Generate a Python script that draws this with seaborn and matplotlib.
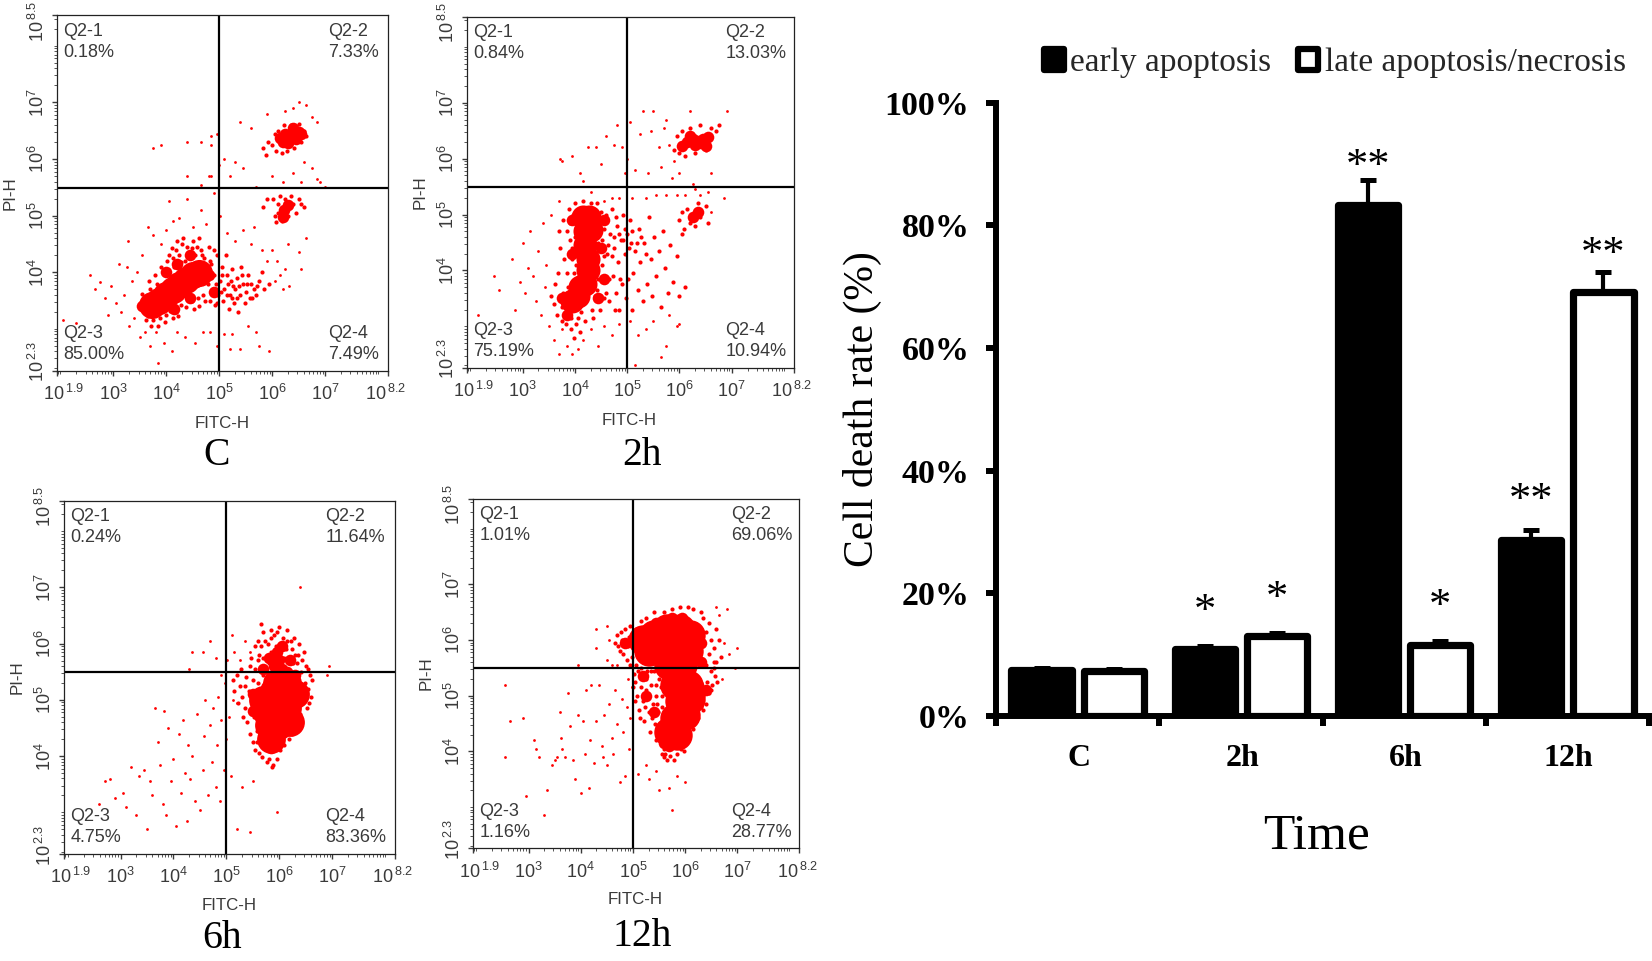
import pandas as pd
import numpy as np
import matplotlib
matplotlib.use("Agg")
import matplotlib.pyplot as plt
from matplotlib.ticker import LogLocator, NullFormatter
from matplotlib.transforms import ScaledTranslation
import seaborn as sns

# bar chart values (same numbers as the gates in the flow plots)
times = ["C", "2h", "6h", "12h"]
early = [7.49, 10.94, 83.36, 28.77]
late = [7.33, 13.03, 11.64, 69.06]
early_err = [0.3, 0.55, 4.1, 1.5]
late_err = [0.3, 0.55, 0.55, 3.4]
early_stars = ["", "*", "**", "**"]
late_stars = ["", "*", "*", "**"]
early_star_y = [0, 18.6, 91.1, 36.6]
late_star_y = [0, 20.7, 19.4, 76.8]
pct_ticks = [0, 20, 40, 60, 80, 100]

# gate percentages, panel order C, 2h, 6h, 12h
q1 = ["0.18%", "0.84%", "0.24%", "1.01%"]
q2 = ["7.33%", "13.03%", "11.64%", "69.06%"]
q3 = ["85.00%", "75.19%", "4.75%", "1.16%"]
q4 = ["7.49%", "10.94%", "83.36%", "28.77%"]

# flow cytometry dots as (log10 FITC-H, log10 PI-H)
c_blob = [(3.74, 3.42), (3.87, 3.50), (3.99, 3.60), (4.12, 3.68), (4.25, 3.78), (4.38, 3.87), (4.50, 3.95), (4.62, 3.98)]
c_knot = [(6.2, 6.30), (6.3, 6.38), (6.4, 6.42), (6.5, 6.48), (6.3, 6.28), (6.45, 6.36), (6.15, 6.38), (6.55, 6.44), (6.25, 6.45), (6.4, 6.55),
          (6.22, 5.10), (6.3, 5.18), (6.2, 4.98),
          (3.55, 3.4), (4.0, 4.0), (4.2, 4.15), (4.45, 4.3), (4.8, 3.95), (4.9, 3.65), (4.15, 3.35), (4.45, 3.55)]
c_dense = [(3.52, 3.45), (3.58, 3.3), (3.6, 3.55), (3.65, 3.22), (3.7, 3.7), (3.75, 3.15), (3.82, 3.8), (3.88, 3.2), (3.95, 3.98),
           (4.0, 3.25), (4.02, 4.2), (4.08, 3.32), (4.1, 4.42), (4.15, 4.1), (4.18, 3.3), (4.2, 4.55), (4.25, 4.3), (4.28, 3.42),
           (4.3, 4.5), (4.35, 4.2), (4.38, 3.38), (4.4, 4.45), (4.45, 4.25), (4.48, 3.5), (4.5, 4.55), (4.55, 4.3), (4.6, 3.55),
           (4.62, 4.6), (4.66, 4.4), (4.7, 3.6), (4.72, 4.25), (4.78, 3.8), (4.8, 4.45), (4.82, 3.5), (4.85, 4.15), (4.88, 3.7),
           (4.9, 3.95), (4.92, 3.42), (4.95, 4.3), (4.98, 3.6), (5.02, 3.85), (5.05, 4.1), (5.08, 3.5), (5.1, 3.7), (5.12, 4.3),
           (5.15, 3.95), (5.18, 3.35), (5.2, 3.6), (5.22, 3.85), (5.25, 4.05), (5.28, 3.45), (5.3, 3.7), (5.33, 3.9), (5.36, 3.3),
           (5.4, 3.6), (5.42, 4.1), (5.45, 3.8), (5.48, 3.45), (5.5, 3.65), (5.55, 3.95), (5.58, 3.55), (5.6, 3.8), (5.65, 3.7),
           (5.7, 3.6), (5.75, 3.85), (5.8, 4.0), (5.85, 3.7), (5.95, 3.8),
           (6.0, 6.25), (6.05, 6.45), (6.08, 6.15), (6.12, 6.5), (6.18, 6.1), (6.22, 6.6), (6.28, 6.15), (6.35, 6.6), (6.42, 6.2),
           (6.5, 6.62), (6.55, 6.3), (6.6, 6.5), (6.65, 6.4), (5.82, 6.2), (5.88, 6.08), (5.92, 6.3),
           (6.02, 5.3), (6.05, 5.0), (6.08, 4.88), (6.12, 5.2), (6.15, 5.35), (6.18, 4.9), (6.25, 5.3), (6.3, 5.0), (6.35, 5.35),
           (6.4, 5.2), (6.45, 5.05), (6.5, 5.3), (6.55, 5.2), (6.6, 5.15), (6.12, 5.05), (5.9, 5.3), (5.82, 5.15),
           (3.55, 3.62), (3.62, 3.15), (3.68, 3.85), (3.72, 3.05), (3.78, 3.95), (3.85, 3.05), (3.9, 4.1), (3.98, 3.12), (4.05, 4.3), (4.12, 3.2),
           (4.12, 4.25), (4.18, 4.4), (4.22, 3.22), (4.28, 4.18), (4.32, 4.6), (4.42, 4.32), (4.48, 4.42), (4.52, 3.35), (4.58, 4.45), (4.62, 3.4),
           (4.68, 4.3), (4.74, 3.5), (4.76, 3.95), (4.82, 4.2), (4.84, 3.65), (4.9, 4.4), (4.94, 3.8), (4.96, 3.45), (5.04, 3.65), (5.06, 3.95),
           (5.14, 3.6), (5.16, 3.8), (5.24, 3.55), (5.26, 3.75), (5.34, 3.55), (5.38, 3.75), (5.44, 3.95), (5.52, 3.8), (5.62, 3.55), (5.72, 3.75)]
c_sparse = [(2.05, 3.15), (2.3, 3.1), (2.55, 3.95), (2.65, 3.7), (2.75, 3.82), (2.85, 3.55), (2.9, 3.25), (2.95, 3.75), (3.05, 3.45),
            (3.1, 4.15), (3.15, 3.3), (3.2, 3.6), (3.25, 4.1), (3.27, 4.55), (3.3, 3.05), (3.35, 3.85), (3.4, 3.2), (3.45, 4.0),
            (3.5, 2.85), (3.55, 4.3), (3.6, 2.95), (3.65, 4.8), (3.7, 2.7), (3.75, 4.65), (3.8, 2.95), (3.85, 2.4), (3.9, 4.5),
            (3.95, 2.75), (4.0, 4.75), (4.05, 5.25), (4.1, 2.6), (4.12, 4.9), (4.2, 2.95), (4.25, 4.95), (4.35, 2.85), (4.4, 5.3),
            (4.5, 4.8), (4.55, 2.75), (4.65, 5.1), (4.7, 2.95), (4.75, 4.85), (4.82, 2.95), (4.9, 5.4), (4.95, 2.7), (5.02, 5.0),
            (5.1, 2.9), (5.15, 4.7), (5.2, 2.65), (5.25, 2.9), (5.3, 4.55), (5.4, 2.65), (5.45, 4.75), (5.55, 3.05), (5.6, 4.5),
            (5.65, 4.8), (5.7, 2.95), (5.75, 2.7), (5.8, 4.4), (5.9, 4.2), (5.95, 2.6), (6.0, 4.4), (6.05, 3.85), (6.1, 4.2),
            (6.15, 3.95), (6.2, 3.7), (6.25, 4.05), (6.3, 4.5), (6.32, 3.75), (6.5, 4.35), (6.55, 4.05), (6.65, 4.6),
            (3.9, 6.25), (3.75, 6.2), (4.4, 6.3), (4.65, 6.3), (4.85, 6.4), (4.95, 6.45), (4.85, 6.25), (4.4, 5.7), (4.8, 5.7),
            (4.65, 5.55), (4.85, 5.7), (5.0, 5.9), (5.1, 6.0), (5.2, 5.7), (5.3, 5.95), (5.45, 5.85), (5.6, 6.55), (5.4, 6.65),
            (5.7, 5.5), (5.9, 6.8), (6.0, 5.7), (6.2, 5.6), (6.4, 5.75), (6.6, 5.95), (6.75, 5.85), (6.85, 5.65), (6.55, 5.6),
            (6.85, 6.65), (6.65, 6.95), (6.5, 7.0), (6.4, 6.9), (6.25, 6.85), (6.75, 6.75), (7.0, 5.5), (6.9, 5.6)]

h2_blob = [(4.15, 4.95), (4.27, 4.95), (4.2, 4.7), (4.3, 4.72), (4.2, 4.45), (4.25, 4.2), (4.25, 4.0), (4.2, 3.75), (4.05, 3.55), (3.95, 3.45), (4.1, 3.7)]
h2_knot = [(6.15, 6.3), (6.25, 6.35), (6.35, 6.32), (6.45, 6.35), (6.55, 6.38), (6.3, 6.25), (6.42, 6.28), (6.2, 6.4), (6.05, 6.22), (6.5, 6.22),
           (4.55, 4.9), (4.5, 4.4), (3.85, 3.2), (3.75, 3.5), (4.45, 3.5), (3.95, 4.9), (3.95, 4.3), (4.55, 3.85), (6.25, 4.95), (6.35, 5.05)]
h2_dense = [(3.55, 3.55), (3.6, 3.4), (3.62, 3.75), (3.65, 3.2), (3.68, 3.95), (3.7, 4.7), (3.72, 4.4), (3.75, 3.1), (3.78, 4.9), (3.8, 4.2),
            (3.82, 3.05), (3.85, 3.95), (3.88, 5.1), (3.9, 4.55), (3.92, 2.95), (3.95, 4.2), (3.98, 2.8), (4.0, 5.2), (4.02, 3.05), (4.05, 4.3),
            (4.1, 2.9), (4.15, 5.25), (4.2, 3.1), (4.3, 5.2), (4.35, 3.15), (4.42, 5.2), (4.45, 4.5), (4.48, 3.3), (4.5, 5.05), (4.52, 4.1),
            (4.55, 3.5), (4.55, 4.75), (4.58, 3.8), (4.6, 5.0), (4.62, 4.3), (4.65, 3.45), (4.68, 4.65), (4.7, 5.1), (4.72, 3.9), (4.75, 4.4),
            (4.78, 3.6), (4.8, 4.8), (4.82, 4.15), (4.85, 3.3), (4.88, 4.55), (4.9, 3.75), (4.92, 5.0), (4.95, 4.3), (4.98, 3.5), (5.0, 4.65),
            (5.02, 3.85), (5.05, 4.9), (5.08, 4.5), (5.1, 3.3), (5.12, 3.95), (5.15, 4.35), (5.2, 3.65), (5.22, 4.75), (5.25, 4.15), (5.3, 3.45),
            (5.33, 4.5), (5.38, 3.75), (5.42, 4.95), (5.45, 4.2), (5.48, 3.55), (5.52, 4.6), (5.55, 3.9), (5.6, 4.35), (5.65, 3.35), (5.68, 4.7),
            (5.72, 4.05), (5.78, 3.6), (5.82, 4.45), (5.88, 3.8), (5.95, 4.25), (6.0, 3.55), (6.05, 4.65), (6.1, 3.7),
            (6.0, 4.9), (6.05, 5.05), (6.08, 4.75), (6.15, 5.1), (6.2, 4.85), (6.25, 5.0), (6.3, 4.8), (6.35, 5.2), (6.4, 4.95), (6.5, 5.15), (6.55, 4.85),
            (5.9, 6.15), (5.95, 6.4), (6.0, 6.1), (6.05, 6.5), (6.1, 6.05), (6.2, 6.55), (6.3, 6.1), (6.4, 6.6), (6.5, 6.15), (6.6, 6.55), (6.7, 6.5), (6.75, 6.6),
            (3.75, 3.35), (3.78, 3.6), (3.82, 3.25), (3.84, 4.7), (3.86, 3.7), (3.9, 4.85), (3.92, 3.15), (3.94, 4.4), (3.96, 5.0), (3.98, 3.95), (4.0, 4.6),
            (4.02, 4.1), (4.05, 3.15), (4.08, 4.8), (4.12, 3.25), (4.32, 3.3), (4.38, 3.55), (4.4, 4.25), (4.42, 3.65), (4.44, 3.85), (4.46, 4.8), (4.5, 3.55),
            (4.52, 4.55), (4.56, 4.25), (4.6, 3.6), (4.64, 4.45), (4.66, 3.85), (4.7, 4.25), (4.74, 4.6), (4.76, 3.3), (4.78, 4.95), (4.84, 4.65), (4.86, 3.85),
            (4.92, 4.55), (4.96, 4.75), (5.04, 4.4), (5.1, 4.7), (5.18, 4.5), (5.26, 4.6), (5.36, 4.3)]
h2_sparse = [(2.15, 3.2), (2.55, 3.65), (2.45, 3.9), (2.8, 4.2), (2.85, 3.3), (2.95, 3.8), (3.0, 4.5), (3.05, 3.6), (3.1, 4.05), (3.15, 4.7), (3.2, 3.9),
             (3.25, 3.45), (3.3, 4.35), (3.35, 3.2), (3.38, 4.85), (3.42, 3.7), (3.45, 4.1), (3.5, 3.0), (3.55, 5.0), (3.6, 2.75), (3.7, 2.5), (3.75, 2.95),
             (3.85, 2.65), (3.95, 2.5), (4.05, 2.6), (4.15, 2.75), (4.3, 2.95), (4.45, 2.65), (4.55, 3.0), (4.7, 2.85), (4.85, 3.05), (5.05, 3.1), (5.2, 2.85),
             (5.35, 2.95), (5.5, 3.1), (5.65, 2.45), (5.75, 2.65), (5.8, 3.2), (5.95, 3.0), (6.0, 3.05), (5.15, 2.3),
             (3.7, 5.25), (3.72, 6.0), (3.75, 5.95), (3.95, 6.05), (4.15, 5.6), (4.25, 6.2), (4.1, 5.75), (4.3, 5.4), (4.4, 6.2), (4.5, 5.9), (4.55, 5.25),
             (4.6, 6.4), (4.7, 5.3), (4.75, 6.25), (4.8, 6.6), (4.85, 5.3), (4.9, 6.2), (4.95, 5.75), (5.0, 6.0), (5.05, 6.65), (5.1, 5.3), (5.15, 5.8),
             (5.25, 6.45), (5.3, 6.85), (5.35, 5.3), (5.4, 5.75), (5.45, 6.5), (5.5, 6.85), (5.55, 5.35), (5.6, 6.2), (5.65, 5.85), (5.7, 6.55), (5.75, 5.35),
             (5.8, 6.25), (5.85, 5.65), (5.9, 5.95), (5.95, 5.35), (6.0, 5.75), (6.1, 5.35), (6.25, 5.55), (6.3, 5.45), (6.4, 5.35), (6.55, 5.4), (6.85, 5.3),
             (6.6, 5.05), (6.9, 6.85), (6.2, 6.85), (6.6, 5.75), (5.75, 6.7)]

h6_blob = [(5.7, 5.0), (5.9, 5.15), (6.1, 5.15), (6.3, 5.1), (5.75, 4.8), (5.95, 4.85), (6.15, 4.85), (5.8, 4.55), (6.0, 4.55), (5.85, 4.3), (6.2, 4.6), (5.95, 5.3), (6.15, 5.3)]
h6_knot = [(5.95, 5.45), (6.05, 5.55), (6.0, 5.7), (6.15, 5.5), (5.85, 4.15), (5.9, 5.6), (5.8, 5.75), (6.2, 5.7), (5.7, 5.55), (6.3, 5.45), (5.5, 5.1), (5.5, 4.8), (6.05, 5.95), (5.95, 5.85)]
h6_dense = [(5.25, 5.25), (5.3, 5.05), (5.35, 4.85), (5.38, 5.4), (5.4, 4.6), (5.42, 5.15), (5.45, 4.4), (5.48, 4.95), (5.5, 5.35), (5.5, 4.25),
            (5.52, 4.7), (5.55, 5.55), (5.55, 4.1), (5.58, 4.45), (5.6, 5.3), (5.62, 5.8), (5.65, 4.2), (5.65, 5.55), (5.68, 3.98), (5.7, 5.75),
            (5.72, 4.3), (5.75, 5.5), (5.78, 6.0), (5.8, 3.95), (5.8, 5.65), (5.85, 5.85), (5.88, 3.85), (5.9, 6.15), (5.92, 5.4), (5.95, 3.95),
            (5.98, 5.95), (6.0, 6.3), (6.02, 4.1), (6.05, 5.75), (6.08, 6.1), (6.1, 4.2), (6.12, 5.9), (6.15, 6.25), (6.18, 4.3), (6.2, 5.7),
            (6.22, 6.05), (6.25, 4.4), (6.3, 5.8), (6.32, 5.4), (6.35, 4.55), (6.38, 6.0), (6.4, 4.75), (6.42, 5.5), (6.45, 5.0), (6.48, 5.3),
            (6.5, 5.6), (6.52, 4.85), (6.55, 5.2), (6.58, 5.45), (6.6, 5.05), (6.62, 5.35), (5.6, 6.05), (5.7, 6.2), (5.65, 6.35), (5.85, 6.25),
            (5.12, 5.35), (5.15, 5.15), (5.2, 5.45), (5.22, 4.95), (5.28, 5.55), (5.32, 4.7), (5.36, 5.25), (5.44, 5.6), (5.46, 5.75), (5.52, 5.15),
            (5.54, 5.95), (5.58, 4.25), (5.6, 5.7), (5.62, 4.05), (5.66, 5.95), (5.7, 5.45), (5.74, 6.05), (5.76, 3.9), (5.82, 5.75), (5.84, 6.1), (5.86, 3.8),
            (5.92, 5.75), (5.94, 5.95), (5.96, 6.2), (6.02, 6.0), (6.06, 5.9), (6.1, 5.75), (6.14, 6.05), (6.16, 5.7), (6.24, 5.9), (6.26, 5.65), (6.28, 6.1),
            (6.34, 5.65), (6.36, 5.8), (6.44, 5.7), (6.46, 5.85), (6.54, 5.55), (6.56, 4.95), (6.42, 4.6), (6.3, 4.45)]
h6_sparse = [(2.6, 3.15), (2.7, 3.55), (2.8, 3.6), (2.9, 3.25), (3.05, 3.35), (3.1, 3.1), (3.2, 3.8), (3.3, 2.95), (3.35, 3.65), (3.45, 3.75), (3.5, 2.7),
             (3.55, 3.55), (3.6, 3.3), (3.65, 4.85), (3.7, 4.25), (3.75, 3.85), (3.8, 3.15), (3.82, 4.8), (3.85, 2.95), (3.9, 4.5), (3.95, 3.55), (4.0, 3.95),
             (4.05, 2.75), (4.1, 4.4), (4.15, 3.35), (4.18, 4.65), (4.22, 3.7), (4.25, 2.85), (4.28, 4.2), (4.32, 3.6), (4.35, 4.0), (4.4, 3.2), (4.45, 4.75),
             (4.5, 3.05), (4.55, 3.75), (4.58, 4.35), (4.6, 5.0), (4.65, 3.3), (4.7, 4.55), (4.72, 3.9), (4.75, 4.85), (4.8, 3.45), (4.82, 4.2), (4.85, 5.05),
             (4.88, 3.2), (4.9, 4.65), (4.95, 3.75), (4.98, 5.3), (5.0, 4.3), (5.02, 5.7), (5.05, 4.7), (5.08, 3.65), (5.12, 5.0), (4.9, 5.45), (4.8, 5.75),
             (4.7, 6.05), (5.15, 5.85), (5.2, 4.95), (5.1, 6.15), (5.25, 5.7), (5.3, 3.45), (5.35, 6.05), (5.45, 5.85), (5.5, 3.55), (5.2, 2.7), (5.45, 2.65),
             (5.95, 3.0), (6.4, 7.0), (6.95, 5.6), (6.9, 5.45), (4.55, 5.85), (4.35, 5.85), (4.3, 5.55)]

h12_blob = [(5.2, 6.0), (5.4, 6.1), (5.65, 6.2), (5.9, 6.2), (6.1, 6.1), (5.3, 5.8), (5.55, 5.8), (5.8, 5.85), (6.05, 5.8), (5.7, 5.55), (5.95, 5.55),
            (5.8, 5.2), (6.05, 5.2), (5.9, 4.9), (6.1, 4.95), (5.8, 4.6), (6.0, 4.65), (5.7, 4.35), (5.85, 4.3)]
h12_knot = [(5.05, 5.95), (5.1, 6.15), (6.3, 5.95), (6.3, 5.6), (6.25, 5.2), (5.45, 6.3), (5.75, 6.4), (5.95, 6.4), (5.6, 4.15), (5.7, 4.1),
            (5.25, 5.0), (5.4, 4.7), (5.2, 5.35), (4.85, 5.95), (6.4, 5.1)]
h12_dense = [(4.65, 5.95), (4.7, 6.1), (4.75, 5.8), (4.8, 6.0), (4.85, 6.2), (4.88, 5.65), (4.9, 5.9), (4.95, 6.25), (4.98, 5.7), (5.02, 5.4),
             (5.05, 5.25), (5.08, 5.0), (5.1, 5.45), (5.12, 4.75), (5.15, 5.15), (5.18, 5.35), (5.2, 4.9), (5.22, 4.55), (5.25, 5.1), (5.28, 5.45), (5.3, 4.7),
             (5.32, 4.35), (5.35, 5.2), (5.38, 4.85), (5.4, 5.45), (5.42, 4.5), (5.45, 5.0), (5.45, 4.2), (5.48, 4.7), (5.5, 5.3), (5.52, 4.35), (5.55, 5.0),
             (5.55, 3.95), (5.58, 4.6), (5.6, 3.9), (5.62, 5.25), (5.65, 3.85), (5.72, 3.92), (5.78, 3.85), (5.85, 3.95), (5.92, 4.05), (5.98, 4.0), (6.05, 4.2),
             (6.15, 4.4), (6.2, 4.55), (6.3, 4.8), (6.35, 5.0), (6.4, 4.85), (6.42, 5.25), (6.45, 5.05), (6.5, 5.45), (6.52, 5.2), (6.55, 5.6), (6.58, 5.35),
             (6.4, 5.55), (6.45, 5.75), (6.5, 6.0), (6.55, 5.85), (6.6, 6.2), (6.45, 6.3), (6.4, 6.15), (6.35, 6.4), (6.3, 6.5), (6.15, 6.55), (6.05, 6.6),
             (5.9, 6.6), (5.75, 6.55), (5.6, 6.5), (5.4, 6.5), (5.25, 6.4), (5.15, 6.35),
             (4.72, 5.9), (4.78, 6.15), (4.82, 5.75), (4.92, 6.05), (4.94, 5.55), (5.0, 5.15), (5.04, 4.9), (5.06, 5.55), (5.14, 4.6), (5.16, 5.5), (5.24, 4.8),
             (5.26, 5.3), (5.34, 5.45), (5.36, 4.6), (5.44, 5.2), (5.46, 4.85), (5.5, 4.5), (5.54, 5.15), (5.56, 4.8), (5.6, 4.05), (5.62, 3.95), (6.25, 4.6),
             (6.35, 4.75), (6.5, 5.1), (6.55, 5.5), (6.6, 5.6), (6.62, 5.25), (6.65, 6.0), (6.68, 5.7)]
h12_sparse = [(2.55, 5.2), (2.65, 4.55), (2.9, 4.6), (2.95, 3.2), (2.55, 3.9), (3.1, 4.2), (3.15, 4.05), (3.2, 3.9), (3.35, 3.3), (3.3, 2.85), (3.45, 3.75),
              (3.5, 3.85), (3.55, 3.9), (3.6, 4.7), (3.62, 4.25), (3.65, 4.05), (3.7, 3.9), (3.75, 5.05), (3.8, 4.45), (3.85, 3.85), (3.9, 3.5), (3.95, 4.65),
              (4.0, 3.25), (4.05, 4.55), (4.08, 3.95), (4.1, 5.1), (4.15, 3.35), (4.18, 4.2), (4.2, 5.2), (4.25, 3.8), (4.3, 4.55), (4.35, 5.2), (4.4, 4.1),
              (4.42, 3.9), (4.45, 4.65), (4.5, 3.75), (4.55, 4.85), (4.6, 4.25), (4.62, 3.95), (4.65, 5.1), (4.7, 4.5), (4.75, 3.45), (4.8, 4.95), (4.82, 4.35),
              (4.85, 3.55), (4.88, 4.8), (4.9, 5.3), (4.92, 4.05), (4.95, 4.6), (4.98, 5.15), (4.7, 5.55), (4.6, 5.55), (4.55, 6.0), (4.5, 5.65), (4.3, 6.2),
              (4.3, 5.85), (4.5, 6.25), (3.95, 5.55), (5.1, 3.6), (5.25, 3.75), (5.3, 3.5), (5.45, 3.65), (5.5, 3.3), (5.7, 3.35), (5.85, 3.55), (6.0, 3.45),
              (5.75, 2.95), (6.75, 5.95), (6.85, 5.75), (6.95, 5.5), (7.0, 5.85), (6.7, 5.3), (6.65, 6.45), (6.8, 6.55), (6.6, 6.6)]

RED = "#ff0000"
BLACK = "#000000"
GREY = "#3a3a3a"
W, H = 1652, 961

sns.set_theme(style="ticks")
plt.rcParams["font.family"] = ["Liberation Sans", "DejaVu Sans"]
plt.rcParams["mathtext.fontset"] = "custom"
plt.rcParams["mathtext.rm"] = "Liberation Sans"
plt.rcParams["mathtext.default"] = "rm"

fig = plt.figure(figsize=(W / 100, H / 100), dpi=100, facecolor="white")


def box(left, top, right, bottom):
    # pixel box to figure fractions
    return [left / W, 1 - bottom / H, (right - left) / W, (bottom - top) / H]


def to_frame(points):
    df = pd.DataFrame(points, columns=["fitc", "pi"])
    return 10 ** df


def nudge(label, dx, dy):
    label.set_transform(label.get_transform() + ScaledTranslation(dx / 100, dy / 100, fig.dpi_scale_trans))


def flow_panel(rect, blob, knot, dense, sparse, blob_size, idx, qx, name, name_xy, fitc_xy, pi_xy):
    ax = fig.add_axes(box(*rect))
    for pts, size in [(sparse, 4), (dense, 9), (knot, 70), (blob, blob_size)]:
        sns.scatterplot(data=to_frame(pts), x="fitc", y="pi", ax=ax, s=size, color=RED, linewidth=0, legend=False)
    ax.set_xscale("log")
    ax.set_yscale("log")
    ax.set_xlim(10 ** 1.93, 10 ** 8.19)
    ax.set_ylim(10 ** 2.26, 10 ** 8.54)
    ax.axvline(1e5, color=BLACK, lw=1.6)
    ax.axhline(10 ** 5.49, color=BLACK, lw=1.6)

    ax.set_xticks([10 ** 1.93, 1e3, 1e4, 1e5, 1e6, 1e7, 10 ** 8.19])
    ax.set_xticklabels([r"$10^{\,1.9}$", r"$10^{3}$", r"$10^{4}$", r"$10^{5}$", r"$10^{6}$", r"$10^{7}$", r"$10^{\,8.2}$"],
                       fontsize=13, color=GREY)
    ax.set_yticks([10 ** 2.26, 1e4, 1e5, 1e6, 1e7, 10 ** 8.54])
    ax.set_yticklabels([r"$10^{\,2.3}$", r"$10^{4}$", r"$10^{5}$", r"$10^{6}$", r"$10^{7}$", r"$10^{\,8.5}$"],
                       fontsize=13, color=GREY, rotation=90, va="center")
    ax.xaxis.set_minor_locator(LogLocator(base=10, subs=np.arange(1, 10), numticks=12))
    ax.yaxis.set_minor_locator(LogLocator(base=10, subs=np.arange(1, 10), numticks=12))
    ax.xaxis.set_minor_formatter(NullFormatter())
    ax.yaxis.set_minor_formatter(NullFormatter())
    ax.tick_params(which="major", length=3.5, width=1, color=GREY)
    ax.tick_params(which="minor", length=2, width=0.6, color=GREY)
    ax.tick_params(axis="x", which="major", pad=6)
    ax.tick_params(axis="y", which="major", pad=3)
    nudge(ax.get_xticklabels()[0], 7, 0)
    nudge(ax.get_xticklabels()[-1], -2, 0)
    nudge(ax.get_yticklabels()[0], 0, 9)
    nudge(ax.get_yticklabels()[-1], 0, -6)
    ax.set_xlabel("")
    ax.set_ylabel("")
    for s in ax.spines.values():
        s.set_visible(True)
        s.set_linewidth(0.9)
        s.set_color("#222222")

    style = dict(transform=ax.transAxes, fontsize=13, color=GREY, va="center", linespacing=1.3)
    ax.text(0.02, 0.925, "Q2-1\n" + q1[idx], **style)
    ax.text(qx, 0.925, "Q2-2\n" + q2[idx], **style)
    ax.text(0.02, 0.076, "Q2-3\n" + q3[idx], **style)
    ax.text(qx, 0.076, "Q2-4\n" + q4[idx], **style)

    fig.text(fitc_xy[0] / W, 1 - fitc_xy[1] / H, "FITC-H", fontsize=12.2, color=GREY, ha="center", va="center")
    fig.text(pi_xy[0] / W, 1 - pi_xy[1] / H, "PI-H", fontsize=12.2, color=GREY, ha="center", va="center", rotation=90)
    fig.text(name_xy[0] / W, 1 - name_xy[1] / H, name, fontsize=28.5, family="Liberation Serif", color=BLACK, ha="center", va="center")


flow_panel((56.7, 15.3, 388, 370.7), c_blob, c_knot, c_dense, c_sparse, 380, 0, 0.82, "C", (216.7, 456), (221.7, 423), (10, 192.7))
flow_panel((466.7, 16.7, 794, 367.7), h2_blob, h2_knot, h2_dense, h2_sparse, 300, 1, 0.79, "2h", (641.7, 456), (629.3, 420), (420, 192))
flow_panel((64, 500.7, 395, 854), h6_blob, h6_knot, h6_dense, h6_sparse, 430, 2, 0.79, "6h", (221.7, 939), (229, 906), (17, 676.7))
flow_panel((472.7, 498.7, 799.3, 848.3), h12_blob, h12_knot, h12_dense, h12_sparse, 480, 3, 0.79, "12h", (641.7, 936), (635, 900), (426, 673))

# bar chart on the right
bar_ax = fig.add_axes(box(996, 102.7, 1649, 716))
bars = pd.DataFrame({
    "time": times * 2,
    "rate": early + late,
    "stage": ["early apoptosis"] * 4 + ["late apoptosis/necrosis"] * 4,
})
sns.barplot(data=bars, x="time", y="rate", hue="stage", order=times, ax=bar_ax, palette=[BLACK, "white"],
            width=0.884, gap=0.165, saturation=1, errorbar=None, edgecolor=BLACK, linewidth=5.2)
bar_ax.set_xlim(-0.5, 3.5)
bar_ax.set_ylim(0, 100)

for cont, errs, stars, star_y in zip(bar_ax.containers, [early_err, late_err], [early_stars, late_stars], [early_star_y, late_star_y]):
    for bar, err, star, sy in zip(cont, errs, stars, star_y):
        bar.set_joinstyle("round")
        cx = bar.get_x() + bar.get_width() / 2
        top = bar.get_height()
        bar_ax.errorbar(cx, top, yerr=[[0], [err]], color=BLACK, elinewidth=3, capsize=6, capthick=3.6, zorder=1)
        if star:
            bar_ax.annotate(star, (cx, sy), xytext=(0, -15), textcoords="offset points", ha="center", va="baseline",
                            fontsize=32, family="Liberation Serif", color=BLACK)

bar_ax.set_yticks(pct_ticks)
bar_ax.set_yticklabels([f"{v}%" for v in pct_ticks], fontsize=24.5, family="Liberation Serif", weight="bold", color=BLACK)
bar_ax.set_xticks([-0.5, 0.5, 1.5, 2.5, 3.5])
bar_ax.set_xticklabels([])
bar_ax.tick_params(axis="both", length=7, width=4.3, color=BLACK)
bar_ax.tick_params(axis="y", pad=12)
bar_ax.set_xlabel("")
bar_ax.set_ylabel("")
sns.despine(ax=bar_ax)
for side in ["left", "bottom"]:
    bar_ax.spines[side].set_linewidth(4.3)
    bar_ax.spines[side].set_color(BLACK)

for i, t in enumerate(times):
    bar_ax.annotate(t, (i, 0), xytext=(1, -30.5), textcoords="offset points", ha="center", va="center",
                    fontsize=23, family="Liberation Serif", weight="bold", color=BLACK)

leg = bar_ax.legend(ncol=2, loc="lower left", bbox_to_anchor=(0.035, 1.0), frameon=False,
                    prop={"family": "Liberation Serif", "size": 24}, handlelength=0.6, handleheight=0.6,
                    handletextpad=0.2, columnspacing=0.8, borderpad=0, borderaxespad=0.74)
for patch in leg.get_patches():
    patch.set_linewidth(4.5)
    patch.set_edgecolor(BLACK)
    patch.set_joinstyle("round")

fig.text(1316 / W, 1 - 836 / H, "Time", fontsize=37, family="Liberation Serif", color=BLACK, ha="center", va="center")
fig.text(862 / W, 1 - 409 / H, "Cell death rate (%)", fontsize=30, family="Liberation Serif", color=BLACK,
         ha="center", va="center", rotation=90)

fig.savefig("out.png", dpi=100, facecolor="white")
